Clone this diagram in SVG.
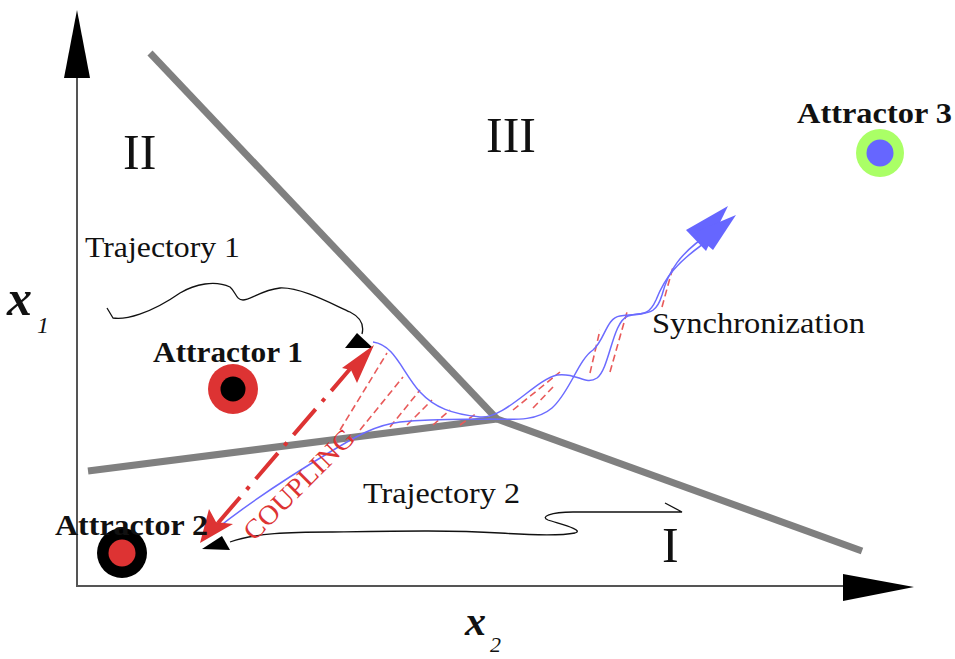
<svg xmlns="http://www.w3.org/2000/svg" width="955" height="659" viewBox="0 0 955 659">
<style>
.serif{font-family:"Liberation Serif","Times New Roman",serif;fill:#111}
.lbl{font-size:30px}
.att{font-size:30px;font-weight:bold}
.roman{font-size:50px}
.gray{stroke:#808080;stroke-width:7;stroke-linecap:butt;fill:none}
.axis{stroke:#555;stroke-width:2;fill:none}
.traj{stroke:#111;stroke-width:1.3;fill:none}
.blue{stroke:#6b6bff;stroke-width:1.5;fill:none}
.hatch{stroke:#e85a5a;stroke-width:1.6;stroke-dasharray:7 4;fill:none}
</style>
<rect width="955" height="659" fill="#fff"/>
<g id="axes">
<line class="axis" x1="77" y1="70" x2="77" y2="586"/>
<line class="axis" x1="76" y1="586" x2="846" y2="586"/>
<polygon points="77,10 64,78 90,78" fill="#000"/>
<polygon points="843,574 843,601 914,587" fill="#000"/>
</g>
<g id="boundaries">
<line class="gray" x1="150" y1="53" x2="497" y2="419"/>
<line class="gray" x1="497" y1="419" x2="862" y2="551"/>
<line class="gray" x1="88" y1="471" x2="497" y2="419"/>
</g>
<g id="connectors">
<g id="hatching">
<line class="hatch" x1="340" y1="430" x2="387" y2="353"/>
<line class="hatch" x1="360" y1="430" x2="403" y2="377"/>
<line class="hatch" x1="390" y1="427" x2="420" y2="390"/>
<line class="hatch" x1="407" y1="425" x2="432" y2="400"/>
<line class="hatch" x1="433" y1="425" x2="450" y2="410"/>
<line class="hatch" x1="460" y1="425" x2="477" y2="413"/>
<line class="hatch" x1="513" y1="410" x2="560" y2="372"/>
<line class="hatch" x1="533" y1="408" x2="553" y2="387"/>
<line class="hatch" x1="590" y1="373" x2="600" y2="330"/>
<line class="hatch" x1="610" y1="372" x2="627" y2="312"/>
<line class="hatch" x1="662" y1="307" x2="673" y2="267"/>
</g>
<path class="blue" d="M373,342 C395,345 402,372 420,392 C435,408 452,414 480,417 C505,419 535,380 557,375 C577,372 585,386 597,378 C610,368 612,322 628,316 C645,311 655,318 662,295 C668,272 680,252 712,232"/>
<path class="blue" d="M215,530 C255,498 300,470 330,452 C355,437 375,425 400,422 C440,418 470,420 490,419 C520,420 538,420 552,408 C570,392 578,360 593,350 C605,340 606,318 620,316 C640,313 648,318 656,300 C664,280 674,262 718,234"/>
<polygon points="686,230 728,206 706,251" fill="#6666ff"/>
<polygon points="693,233 736,215 713,250" fill="#6666ff"/>
<path class="traj" d="M107,308 L113,318 C125,320 150,314 180,293 C195,284 215,280 230,287 C236,292 236,300 243,300 C250,300 262,290 280,288 C300,287 330,303 350,312 C362,318 364,326 362,334"/>
<polygon points="345,348 357,333 373,348" fill="#000"/>
<path class="traj" d="M665,503 L682,512 C660,512 600,512 573,512 C550,512 540,517 548,520 C560,524 585,530 575,533 C560,536 530,535 500,533 C450,530 400,531 330,532 C290,532 255,533 230,542"/>
<polygon points="202,549 222,536 230,550" fill="#000"/>
<line x1="218" y1="523" x2="350" y2="369" stroke="#dd3333" stroke-width="4" stroke-dasharray="34 10 4 10"/>
<polygon points="374,345 342,368 351,370 357,383" fill="#dd3333"/>
<polygon points="200,543 209,509 216,522 233,524" fill="#dd3333"/>
</g>
<g id="attractor1">
<circle cx="233" cy="389" r="25" fill="#dd3333"/>
<circle cx="233" cy="389" r="12.5" fill="#000"/>
<text class="serif att" x="153" y="362" textLength="150" lengthAdjust="spacingAndGlyphs">Attractor 1</text>
</g>
<g id="attractor2">
<circle cx="122" cy="553" r="25" fill="#000"/>
<circle cx="122" cy="553" r="13.5" fill="#dd3333"/>
<text class="serif att" x="55" y="535" textLength="153" lengthAdjust="spacingAndGlyphs">Attractor 2</text>
</g>
<g id="attractor3">
<circle cx="880" cy="153" r="24" fill="#aaff66"/>
<circle cx="880" cy="153" r="13.5" fill="#6666ff"/>
<text class="serif att" x="797" y="123" textLength="155" lengthAdjust="spacingAndGlyphs">Attractor 3</text>
</g>
<g id="labels">
<text class="serif roman" x="123" y="169">II</text>
<text class="serif roman" x="486" y="152">III</text>
<text class="serif roman" x="662" y="562">I</text>
<text class="serif lbl" x="85" y="257" textLength="155" lengthAdjust="spacingAndGlyphs">Trajectory 1</text>
<text class="serif lbl" x="363" y="503" textLength="157" lengthAdjust="spacingAndGlyphs">Trajectory 2</text>
<text class="serif lbl" x="652" y="333" textLength="213" lengthAdjust="spacingAndGlyphs">Synchronization</text>
<text font-family="Liberation Serif, serif" font-size="27" fill="#dd3333" transform="translate(254,542) rotate(-45)" textLength="145" lengthAdjust="spacingAndGlyphs">COUPLING</text>
<text class="serif" x="7" y="315" font-size="50" font-weight="bold" font-style="italic">x</text>
<text class="serif" x="37" y="333" font-size="24" font-style="italic">1</text>
<text class="serif" x="465" y="635" font-size="42" font-weight="bold" font-style="italic">x</text>
<text class="serif" x="490" y="652" font-size="22" font-style="italic">2</text>
</g>
</svg>
